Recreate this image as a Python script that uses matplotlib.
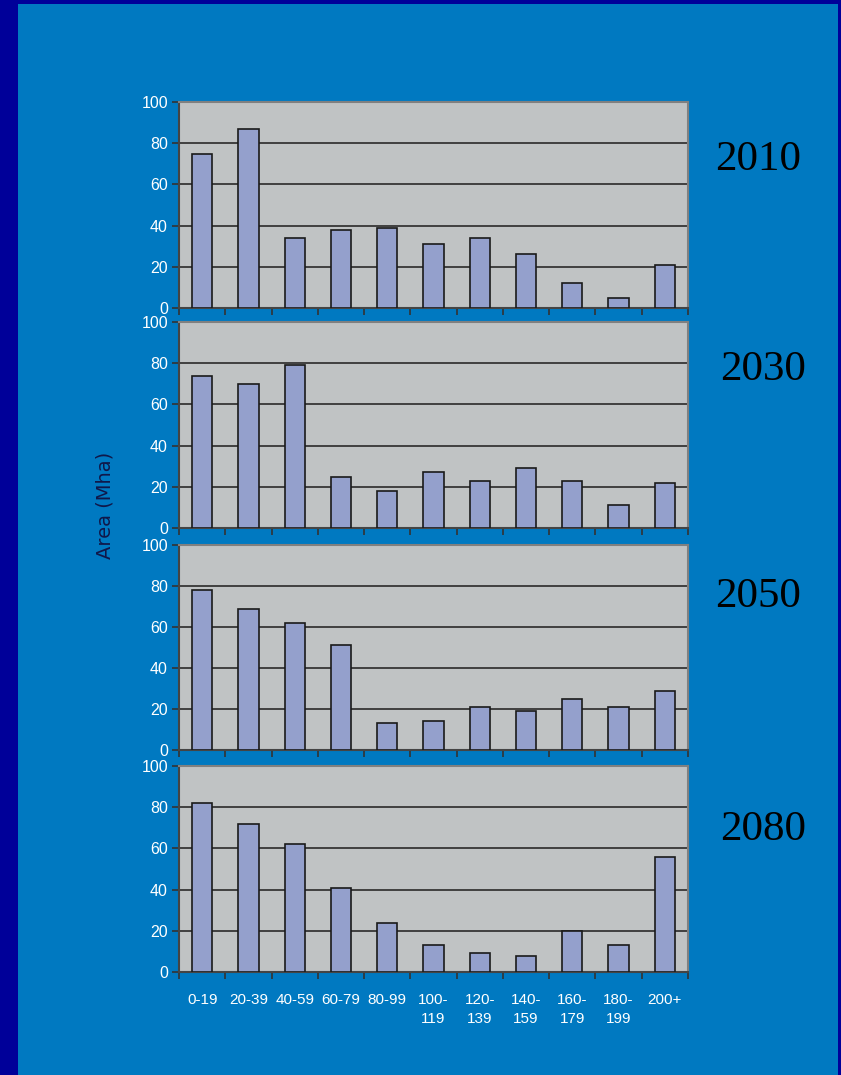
import matplotlib
matplotlib.use('Agg')
import matplotlib.pyplot as plt
import numpy as np

categories = ['0-19', '20-39', '40-59', '60-79', '80-99', '100-\n119', '120-\n139',
              '140-\n159', '160-\n179', '180-\n199', '200+']
years = ['2010', '2030', '2050', '2080']
area_2010 = [75, 87, 34, 38, 39, 31, 34, 26, 12, 5, 21]
area_2030 = [74, 70, 79, 25, 18, 27, 23, 29, 23, 11, 22]
area_2050 = [78, 69, 62, 51, 13, 14, 21, 19, 25, 21, 29]
area_2080 = [82, 72, 62, 41, 24, 13, 9, 8, 20, 13, 56]
series = [area_2010, area_2030, area_2050, area_2080]

W, H = 841, 1075
fig = plt.figure(figsize=(W / 100, H / 100), dpi=100)
fig.patch.set_facecolor('#000099')
# blue slide area
fig.add_artist(plt.Rectangle((18 / W, 0), (838 - 18) / W, 1 - 4 / H,
                             transform=fig.transFigure, facecolor='#0079c1',
                             edgecolor='none', zorder=0))

# panel pixel boxes: (top, bottom)
panels = [(102, 308), (322, 528), (545, 750), (766, 972)]
year_pos = [(758, 160), (763, 370), (758, 597), (763, 830)]
x0, x1 = 179, 688

for i, (vals, (top, bot)) in enumerate(zip(series, panels)):
    ax = fig.add_axes([x0 / W, 1 - bot / H, (x1 - x0) / W, (bot - top) / H])
    ax.set_facecolor('#c0c3c4')
    x = np.arange(len(categories))
    ax.bar(x, vals, width=0.44, color='#94a0cc', edgecolor='#1a1a1a',
           linewidth=1.2, zorder=3)
    ax.set_xlim(-0.5, len(categories) - 0.5)
    ax.set_ylim(0, 100)
    ax.set_yticks(range(0, 101, 20))
    ax.yaxis.grid(True, color='#2a2a2a', linewidth=1.2, zorder=1)
    ax.set_axisbelow(True)
    ax.tick_params(axis='y', colors='#333333', labelcolor='white', labelsize=11.5,
                   length=5, width=1.2, pad=3)
    ax.set_xticks(np.arange(len(categories) + 1) - 0.5)
    ax.set_xticklabels([])
    ax.tick_params(axis='x', colors='#333333', length=5, width=1.2, direction='out')
    for s in ['left', 'bottom']:
        ax.spines[s].set_color('#444444')
        ax.spines[s].set_linewidth(1.5)
    for s in ['top', 'right']:
        ax.spines[s].set_color('#808080')
        ax.spines[s].set_linewidth(1.5)
    for lab in ax.get_yticklabels():
        lab.set_family(['Liberation Sans', 'DejaVu Sans'])
    if i == 3:
        ax.set_xticks(x, minor=True)
        ax.set_xticklabels(categories, minor=True, color='white', fontsize=11,
                           family=['Liberation Sans', 'DejaVu Sans'],
                           verticalalignment='top', linespacing=1.5)
        ax.tick_params(axis='x', which='minor', length=0, pad=15)
    yx, yy = year_pos[i]
    fig.text(yx / W, 1 - yy / H, years[i], fontsize=31, color='black',
             family=['Liberation Serif', 'DejaVu Serif'], ha='center', va='center')

fig.text(105 / W, 1 - 505 / H, 'Area (Mha)', rotation=90, fontsize=14,
         color='#10184a', family=['DejaVu Sans'], ha='center', va='center')

fig.savefig('out.png', dpi=100, facecolor=fig.get_facecolor())
